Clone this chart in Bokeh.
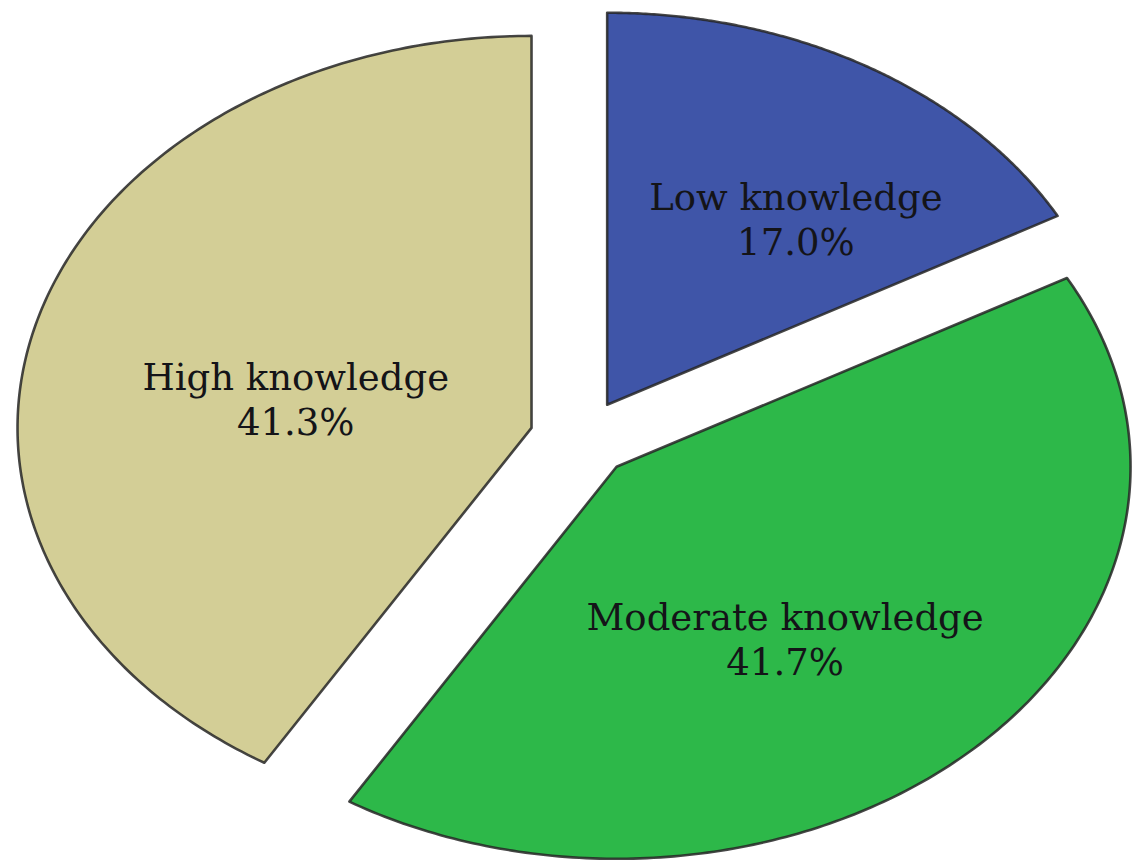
import numpy as np
from bokeh.plotting import figure
from bokeh.models import Range1d, ColumnDataSource
from bokeh.core.properties import value
from bokeh.embed import file_html
from bokeh.resources import INLINE

# ---- data ----
categories = ["Low knowledge", "Moderate knowledge", "High knowledge"]
percents = [17.0, 41.7, 41.3]
colors = ["#3F55A8", "#2DB849", "#D3CE96"]

# ---- layout (data units: pie radius = 1) ----
explode = 0.10
label_pos = [(0.418, 0.615), (0.397, -0.457), (-0.555, 0.156)]  # baseline of first line

W, H = 1139, 862
p = figure(width=W, height=H, output_backend="svg", toolbar_location=None,
           x_range=Range1d(-1.1294, -1.1294 + W / 514.0),
           y_range=Range1d(1.1173 - H / 392.0, 1.1173),
           min_border=0, outline_line_color=None)
p.axis.visible = False
p.grid.visible = False
p.background_fill_color = "white"
p.border_fill_color = "white"

xs, ys = [], []
start = 0.0
total = sum(percents)
for pct in percents:
    span = pct / total * 2 * np.pi
    a0, a1 = start, start + span
    mid = (a0 + a1) / 2
    ox, oy = explode * np.sin(mid), explode * np.cos(mid)
    t = np.linspace(a0, a1, 200)
    px = np.concatenate([[ox], ox + np.sin(t)])
    py = np.concatenate([[oy], oy + np.cos(t)])
    xs.append(list(px))
    ys.append(list(py))
    start = a1

src = ColumnDataSource(dict(xs=xs, ys=ys, color=colors))
p.patches("xs", "ys", source=src, fill_color="color", line_color="#262626",
          line_width=2.6, line_alpha=0.85, line_join="round")

lsrc = ColumnDataSource(dict(
    x=[lp[0] for lp in label_pos],
    y=[lp[1] for lp in label_pos],
    name=categories,
    pct=["%.1f%%" % v for v in percents],
))
p.text("x", "y", text="name", source=lsrc, text_align="center",
       text_baseline="alphabetic", text_font=value("DejaVu Serif"),
       text_font_size="37px", text_color="#141418")
p.text("x", "y", text="pct", source=lsrc, text_align="center",
       text_baseline="alphabetic", y_offset=45, text_font=value("DejaVu Serif"),
       text_font_size="37px", text_color="#141418")

open("out.html", "w").write(file_html(p, INLINE))
